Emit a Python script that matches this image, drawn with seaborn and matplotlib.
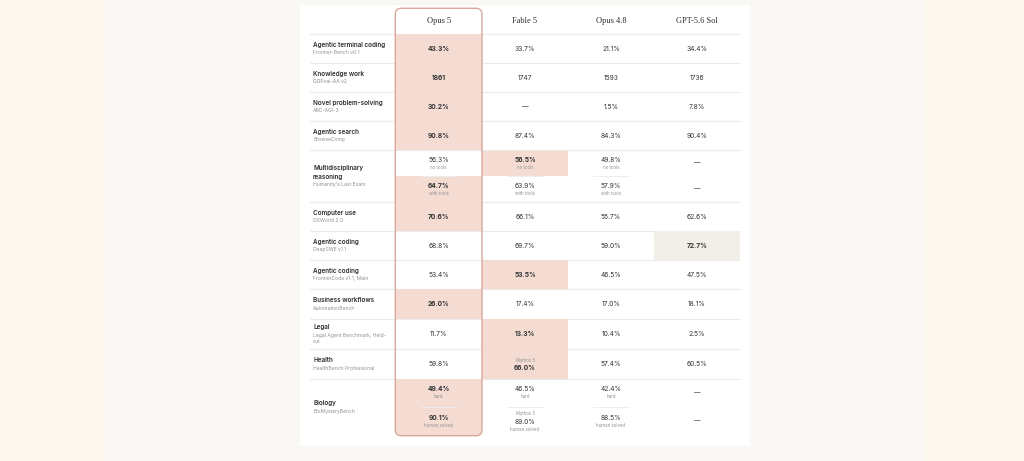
import numpy as np
import matplotlib.pyplot as plt
import seaborn as sns
from matplotlib.patches import Rectangle, FancyBboxPatch

# -------------------------------
# DATA
# -------------------------------
models = ["Opus 5", "Fable 5", "Opus 4.8", "GPT-5.6 Sol"]

benchmarks = ["Agentic terminal coding", "Knowledge work", "Novel problem-solving",
              "Agentic search", "Multidisciplinary\nreasoning", "Computer use",
              "Agentic coding", "Agentic coding", "Business workflows", "Legal",
              "Health", "Biology"]
sources = ["Frontier-Bench v0.1", "GDPval-AA v2", "ARC-AGI-3", "BrowseComp",
           "Humanity's Last Exam", "OSWorld 2.0", "DeepSWE v1.1",
           "FrontierCode v1.1, Main", "AutomationBench",
           "Legal Agent Benchmark, Held-\nout", "HealthBench Professional",
           "BioMysteryBench"]

nan = np.nan
# rows with two sub-scores hold a pair
opus_5 = [43.3, 1861, 30.2, 90.8, (56.3, 64.7), 70.6, 68.8, 53.4, 26.0, 11.7, 59.8, (49.4, 90.1)]
fable_5 = [33.7, 1747, nan, 87.4, (56.5, 63.9), 66.1, 69.7, 53.5, 17.4, 13.3, 66.0, (46.5, 89.0)]
opus_48 = [21.1, 1593, 1.5, 84.3, (49.8, 57.9), 55.7, 59.0, 46.5, 17.0, 10.4, 57.4, (42.4, 88.5)]
gpt_56_sol = [34.4, 1736, 7.8, 90.4, (nan, nan), 62.6, 72.7, 47.5, 18.1, 2.5, 60.5, (nan, nan)]
scores = [opus_5, fable_5, opus_48, gpt_56_sol]

sub_labels = {4: ["no tools", "with tools"], 11: ["hard", "human solved"]}
integer_rows = [1]
# small note printed above a value: (model, row, sub-row)
notes = {(1, 10, 0): "Mythos 5", (1, 11, 1): "Mythos 5"}

# -------------------------------
# LAYOUT / STYLE
# -------------------------------
sns.set_theme(style="white")
SANS = ["Inter", "DejaVu Sans"]
SERIF = ["Liberation Serif", "DejaVu Serif"]

card = (300, 5, 750, 446)
label_x = 313
col_edges = [395.3, 482, 568, 654, 740]
header_bottom = 34.3
row_heights = [29, 29, 29, 29.2, 51.8, 29, 29, 29, 30, 30, 29.4, 57]
line_left, line_right = 310, 740

hi_color = ["#f4dcd3", "#f4dcd3", "#f4dcd3", "#f1efe7"]
box_color = "#d9a899"
grid_color = "#ebebeb"
text_dark = "#2c2c2c"
text_val = "#333333"
text_sub = "#909090"

fig = plt.figure(figsize=(10.24, 4.61), dpi=100)
fig.patch.set_facecolor("#f9f8f4")
ax = fig.add_axes([0, 0, 1, 1])
ax.set_xlim(0, 1024)
ax.set_ylim(461, 0)
ax.axis("off")

# warm side bands of the page background
ax.add_patch(Rectangle((0, 0), 105, 461, color="#fdf8ee", lw=0, zorder=0))
ax.add_patch(Rectangle((923, 0), 101, 461, color="#fdf8ee", lw=0, zorder=0))
# white card
ax.add_patch(Rectangle((card[0], card[1]), card[2] - card[0], card[3] - card[1],
                       color="white", lw=0, zorder=1))

row_edges = np.concatenate([[header_bottom], header_bottom + np.cumsum(row_heights)])
table_bottom = row_edges[-1]

# rounded frame around the first model column
box = FancyBboxPatch((col_edges[0], 8.3), col_edges[1] - col_edges[0], table_bottom - 8.3,
                     boxstyle="round,pad=0,rounding_size=6", fc="none", ec=box_color,
                     lw=1.0, zorder=6)
ax.add_patch(box)

# header
for j, m in enumerate(models):
    cx = (col_edges[j] + col_edges[j + 1]) / 2
    ax.text(cx, 21, m, ha="center", va="center", fontsize=6.0, color="#2e2e2e",
            family=SERIF, zorder=7)

# row separators
for y in row_edges[:-1]:
    ax.plot([line_left, line_right], [y, y], color=grid_color, lw=0.8, zorder=2)


def fmt(v, i):
    if np.isnan(v):
        return "\u2014"
    if i in integer_rows:
        return f"{v:.0f}"
    return f"{v:.1f}%"


for i in range(len(benchmarks)):
    top, bot = row_edges[i], row_edges[i + 1]

    # label block, centred in the row
    n_title = benchmarks[i].count("\n") + 1
    n_src = sources[i].count("\n") + 1
    block = (n_title - 1) * 8.7 + 8 + (n_src - 1) * 6
    y0 = (top + bot) / 2 - block / 2
    ax.text(label_x, y0 + (n_title - 1) * 8.7 / 2, benchmarks[i], ha="left", va="center",
            fontsize=4.55, color=text_dark, family=SANS, weight="semibold",
            linespacing=1.75, zorder=7)
    ys = y0 + (n_title - 1) * 8.7 + 8
    ax.text(label_x, ys + (n_src - 1) * 3, sources[i], ha="left", va="center",
            fontsize=3.6, color=text_sub, family=SANS, linespacing=1.3, zorder=7)

    cells = [s[i] if isinstance(s[i], tuple) else (s[i],) for s in scores]
    n_sub = len(cells[0])
    sub_h = (bot - top) / n_sub
    for k in range(n_sub):
        vals = np.array([c[k] for c in cells], dtype=float)
        best = np.nanargmax(vals)
        s_top = top + k * sub_h
        s_mid = s_top + sub_h / 2
        for j in range(len(models)):
            x0, x1 = col_edges[j], col_edges[j + 1]
            cx = (x0 + x1) / 2
            v = vals[j]
            if j == best:
                r = Rectangle((x0, s_top), x1 - x0, sub_h, color=hi_color[j], lw=0, zorder=3)
                ax.add_patch(r)
                if j == 0:
                    r.set_clip_path(box)
            # stacked lines: note above, value, sub label below
            lines = []
            if (j, i, k) in notes:
                lines.append(("note", notes[(j, i, k)]))
            lines.append(("value", fmt(v, i)))
            if i in sub_labels and not np.isnan(v):
                lines.append(("sub", sub_labels[i][k]))
            gaps = [8 if a[0] == "note" else 7.4 for a in lines[:-1]]
            y = s_mid - sum(gaps) / 2
            for n, (kind, txt) in enumerate(lines):
                if kind == "value":
                    ax.text(cx, y, txt, ha="center", va="center", fontsize=4.8,
                            color=text_val, family=SANS,
                            weight="bold" if j == best else "normal", zorder=7)
                else:
                    ax.text(cx, y, txt, ha="center", va="center", fontsize=3.1,
                            color=text_sub, family=SANS, zorder=7)
                if n < len(gaps):
                    y += gaps[n]
            # short divider between sub-rows
            if n_sub > 1 and k == 0 and not np.isnan(v):
                ax.plot([cx - 18, cx + 18], [top + sub_h, top + sub_h],
                        color="#eeeeee", lw=0.7, zorder=4)

plt.savefig("out.png", dpi=100, facecolor=fig.get_facecolor())
